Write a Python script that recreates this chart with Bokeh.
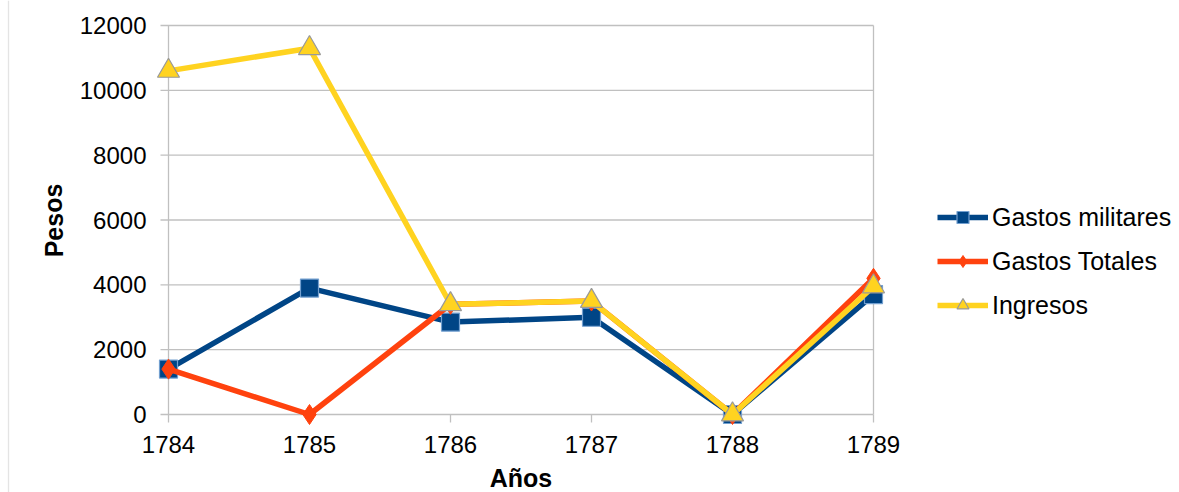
from bokeh.plotting import figure
from bokeh.models import Range1d, Legend, LegendItem, Label
from bokeh.embed import file_html
from bokeh.resources import INLINE

# Data
years = [1784, 1785, 1786, 1787, 1788, 1789]
gastos_militares = [1400, 3900, 2850, 3000, 0, 3700]
gastos_totales = [1400, 0, 3400, 3500, 0, 4200]
ingresos = [10600, 11300, 3400, 3500, 0, 3950]
y_ticks = [0, 2000, 4000, 6000, 8000, 10000, 12000]
y_tick_labels = [str(v) for v in y_ticks]
x_tick_labels = [str(y) for y in years]

W, H = 1179, 492
FONT = "Liberation Sans"
GRID = "#c0c0c0"

# layout of the plotting area in canvas pixels
X_LEFT_PX, X_RIGHT_PX = 168, 873      # first / last year
Y_ZERO_PX, Y_TOP_PX = 414, 25         # value 0 / value 12000
px_per_year = (X_RIGHT_PX - X_LEFT_PX) / (years[-1] - years[0])
px_per_unit = (Y_ZERO_PX - Y_TOP_PX) / y_ticks[-1]

x_start = years[0] - X_LEFT_PX / px_per_year
x_end = years[0] + (W - X_LEFT_PX) / px_per_year
y_start = -(H - Y_ZERO_PX) / px_per_unit
y_end = Y_ZERO_PX / px_per_unit

def dx(px):
    return px / px_per_year

def dy(px):
    return px / px_per_unit

p = figure(width=W, height=H, output_backend="svg", toolbar_location=None,
           x_range=Range1d(x_start, x_end), y_range=Range1d(y_start, y_end),
           x_axis_location=None, y_axis_location=None,
           min_border=0)
p.outline_line_color = None
p.grid.visible = False
p.background_fill_color = "white"
p.border_fill_color = "white"

# faint frame line at the left edge of the chart
p.segment(x0=[x_start + dx(8)], x1=[x_start + dx(8)], y0=[y_start], y1=[y_end],
          line_color="#e4e4e4", line_width=1.3)

n = len(y_ticks)
# horizontal gridlines with outward tick stubs
p.segment(x0=[years[0] - dx(8)] * n, x1=[years[-1]] * n,
          y0=y_ticks, y1=y_ticks, line_color=GRID, line_width=1.3)
# left and right vertical borders
p.segment(x0=[years[0], years[-1]], x1=[years[0], years[-1]],
          y0=[0, 0], y1=[y_ticks[-1], y_ticks[-1]], line_color=GRID, line_width=1.3)
# x tick stubs
p.segment(x0=years, x1=years, y0=[0] * len(years), y1=[-dy(8)] * len(years),
          line_color=GRID, line_width=1.3)

# tick labels
p.text(x=[years[0]] * n, y=y_ticks, text=y_tick_labels, x_offset=-22,
       text_align="right", text_baseline="middle", text_font={"value": FONT},
       text_font_size="24px", text_color="black")
p.text(x=years, y=[0] * len(years), text=x_tick_labels, y_offset=30,
       text_align="center", text_baseline="middle", text_font={"value": FONT},
       text_font_size="24px", text_color="black")

# series
LW = 5.5
l1 = p.line(years, gastos_militares, line_color="#004586", line_width=LW)
m1 = p.scatter(years, gastos_militares, marker="square", size=18,
               fill_color="#004586", line_color="#729fcf", line_width=1.2)
l2 = p.line(years, gastos_totales, line_color="#ff420e", line_width=LW)
m2 = p.scatter(years, gastos_totales, marker="diamond", size=20,
               fill_color="#ff420e", line_color="#ff420e", line_width=1)
l3 = p.line(years, ingresos, line_color="#ffd320", line_width=LW)
m3 = p.scatter(years, ingresos, marker="triangle", size=22,
               fill_color="#ffd320", line_color="#999999", line_width=1.2)

legend = Legend(items=[
    LegendItem(label="Gastos militares", renderers=[l1, m1]),
    LegendItem(label="Gastos Totales", renderers=[l2, m2]),
    LegendItem(label="Ingresos", renderers=[l3, m3]),
], location=(937, H - 320), orientation="vertical",
    border_line_color=None, background_fill_alpha=0,
    padding=0, margin=0, spacing=14, glyph_width=51, glyph_height=30,
    label_height=30, label_standoff=4, label_text_font=FONT,
    label_text_font_size="25px", label_text_color="black")
p.add_layout(legend)

# axis titles
p.add_layout(Label(x=(years[0] + years[-1]) / 2, y=-dy(477 - Y_ZERO_PX), text="Años",
                   text_font=FONT, text_font_size="25px", text_font_style="bold",
                   text_color="black", text_align="center", text_baseline="middle"))
p.add_layout(Label(x=years[0] - dx(X_LEFT_PX - 53), y=dy(Y_ZERO_PX - 220), text="Pesos",
                   text_font=FONT, text_font_size="25px", text_font_style="bold",
                   text_color="black", text_align="center", text_baseline="middle",
                   angle=1.5708))

open("out.html", "w").write(file_html(p, INLINE))
